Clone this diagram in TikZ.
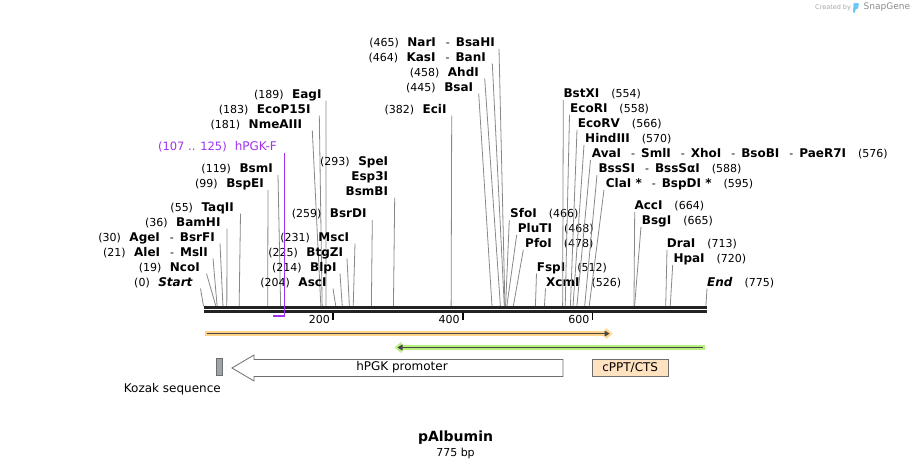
\documentclass[tikz,border=0pt]{standalone}
\usepackage{fontspec}
\setmainfont{DejaVu Sans}
\RequirePackage{xcolor}
\definecolor{cutgray}{RGB}{136,136,136}
\definecolor{barblack}{RGB}{34,34,34}
\definecolor{primerpurple}{RGB}{160,50,240}
\definecolor{orforange}{RGB}{255,210,135}
\definecolor{orfgreen}{RGB}{185,240,125}
\definecolor{orfcore}{RGB}{70,70,70}
\definecolor{cpptfill}{RGB}{255,226,192}
\definecolor{kozakfill}{RGB}{158,162,170}
\definecolor{featureedge}{RGB}{110,110,110}
\definecolor{logoblue}{RGB}{110,200,245}
\usetikzlibrary{calc}
\usetikzlibrary{positioning}
\usetikzlibrary{arrows.meta}

\newcommand{\cutnum}[1]{{\mdseries\fontsize{11}{13}\selectfont(#1)}}
\newcommand{\alsocut}{\hspace{10pt}{\mdseries\fontsize{11}{13}\selectfont-}\hspace{6pt}}

\tikzset{
  site/.style={inner sep=0pt, font=\fontsize{12}{14}\selectfont},
  small/.style={inner sep=0pt, font=\fontsize{11}{13}\selectfont},
  cutline/.style={cutgray, line width=0.8pt},
  seqbar/.style={barblack, line width=2.7pt},
  tick/.style={black, line width=1.6pt},
  orfband/.style={#1, line width=5.5pt, -{Triangle[length=7pt, width=11pt]}},
  orfline/.style={orfcore, line width=1.6pt, -{Triangle[length=5pt, width=6pt]}},
  feature/.style={draw=featureedge, line width=0.8pt},
}

\begin{document}
\begin{tikzpicture}[x=1pt, y=-1pt]
  \useasboundingbox (0,0) rectangle (912,469);
  \fill [white] (0,0) rectangle (912,469);

  \coordinate (s) at (203.5,306);
  \coordinate (e) at (705.9,306);

  % sequence line and ruler
  \draw [seqbar] (203.5,307.6) -- (707,307.6);
  \draw [seqbar] (203.5,311.6) -- (707,311.6);
  \foreach \t in {200,400,600} {
    \coordinate (tk\t) at ($(s)!\t/775!(e)$);
    \draw [tick] (tk\t) ++(0,7) -- ++(0,7);
    \node [small, anchor=east] (tl\t) at ($(tk\t)+(-3,13)$) {\t};
  }

  % sites labelled on the left
  \foreach \p/\xe/\xt/\yb/\lbl in {
      0/193/200.5/286/{\textit{Start}},
      19/200/206.5/271/NcoI,
      21/208/213/256/{AleI\alsocut MslI},
      30/215/220/241/{AgeI\alsocut BsrFI},
      36/220.7/227/226/BamHI,
      55/234/240.5/211/TaqII,
      99/264/268/187.5/BspEI,
      119/273/278/172.5/BsmI,
      181/302.3/312.3/128/NmeAIII,
      183/310.7/319.3/113/EcoP15I,
      189/321.7/326/98/EagI,
      204/326.7/333/286/AscI,
      214/336.7/340/271/BlpI,
      225/343.3/347/256/BtgZI,
      231/349.3/355/241/MscI,
      259/366.7/372.3/217.5/BsrDI,
      382/446.7/451.7/113/EciI,
      445/473.3/478.7/91/BsaI,
      458/479/484.7/76/AhdI,
      464/486/492.3/61/{KasI\alsocut BanI},
      465/495/499/46.5/{NarI\alsocut BsaHI}} {
    \node [site, anchor=base east] (site\p) at (\xe,\yb) {\cutnum{\p}\hspace{8.5pt}\textbf{\lbl}};
    \coordinate (top\p) at (\xt,\yb+2.5);
    \coordinate (cut\p) at ($(s)!\p/775!(e)$);
    \draw [cutline] (top\p) -- (cut\p);
  }

  \node [site, anchor=base east] (site293) at (388.3,165) {\cutnum{293}\hspace{8.5pt}\textbf{SpeI}};
  \node [site, anchor=base east] (esp3I) at (388.3,180) {\textbf{Esp3I}};
  \node [site, anchor=base east] (bsmBI) at (388.3,195) {\textbf{BsmBI}};
  \coordinate (top293) at (394.7,197.5);
  \coordinate (cut293) at ($(s)!293/775!(e)$);
  \draw [cutline] (top293) -- (cut293);

  % sites labelled on the right
  \foreach \p/\xs/\xt/\yb/\lbl in {
      466/510/509.3/217.3/SfoI,
      468/517.7/516.7/232.3/PluTI,
      478/525/523.3/247.3/PfoI,
      512/536.7/536.5/271/FspI,
      526/546/545.5/286/XcmI,
      554/563.3/563.3/97.3/BstXI,
      558/570/569.5/112.3/EcoRI,
      566/577.7/577/127.3/EcoRV,
      570/585/584/142.3/HindIII,
      576/591.7/590.5/157.3/{AvaI\alsocut SmlI\alsocut XhoI\alsocut BsoBI\alsocut PaeR7I},
      588/598.3/597/172.3/{BssSI\alsocut BssSαI},
      595/605.7/604/187.3/{ClaI *\alsocut BspDI *},
      664/634.3/634.7/209.3/AccI,
      665/641.7/641/224.3/BsgI,
      713/666.7/667/247.3/DraI,
      720/673.3/672.7/262.3/HpaI,
      775/707/707/286/{\textit{End}}} {
    \node [site, anchor=base west] (site\p) at (\xs,\yb) {\textbf{\lbl}\hspace{12pt}\cutnum{\p}};
    \coordinate (top\p) at (\xt,\yb+2.5);
    \coordinate (cut\p) at ($(s)!\p/775!(e)$);
    \draw [cutline] (top\p) -- (cut\p);
  }

  % primer
  \node [site, primerpurple, anchor=base east] (hpgkF) at (277,150) {{\fontsize{11.5}{13}\selectfont(107 .. 125)}\hspace{8pt}hPGK-F};
  \coordinate (p107) at ($(s)!107/775!(e)+(0,10)$);
  \coordinate (p125) at ($(s)!125/775!(e)+(0,10)$);
  \coordinate (primertop) at ($(p125 |- hpgkF.base)+(0,3)$);
  \draw [primerpurple, line width=1.2pt] (primertop) -- (p125);
  \draw [primerpurple, line width=2.2pt] (p125) -- (p107);

  % open reading frames
  \draw [orfband=orforange] (204.5,333.6) -- (612.6,333.6);
  \draw [orfline] (206.5,333.6) -- (609.5,333.6);
  \draw [orfband=orfgreen] (704.5,347.5) -- (394.5,347.5);
  \draw [orfline] (702.5,347.5) -- (397.5,347.5);

  % features
  \draw [feature, fill=white] (232,368) -- (254,355) -- (254,359.5) -- (563,359.5)
    -- (563,376.5) -- (254,376.5) -- (254,381) -- cycle;
  \node [site] (hpgk) at (402,367.5) {hPGK promoter};
  \node [feature, fill=cpptfill, minimum width=76pt, minimum height=17pt, inner sep=0pt,
    font=\fontsize{12}{14}\selectfont] (cppt) at (630.2,368) {cPPT/CTS};
  \node [feature, fill=kozakfill, minimum width=5.5pt, minimum height=17pt, inner sep=0pt] (kozak) at (219.2,367) {};
  \node [site, anchor=east] (kozaklabel) at (221,389) {Kozak sequence};

  \node [inner sep=0pt, font=\fontsize{14}{16}\selectfont\bfseries] (title) at (455.5,438) {pAlbumin};
  \node [small] (length) at (455.5,453) {775 bp};

  \node [text=black!35, inner sep=0pt, font=\fontsize{6.5}{8}\selectfont, anchor=west] (created) at (815,7.5) {Created by};
  \fill [logoblue, rounded corners=1pt] (853.5,3) -- (859,3) -- (858,9) -- (855.5,9) -- (855,13) -- (853,13) -- cycle;
  \node [text=black!45, inner sep=0pt, font=\fontsize{9}{11}\selectfont, anchor=west] (snapgene) at (863.5,7.5) {SnapGene};
\end{tikzpicture}
\end{document}
